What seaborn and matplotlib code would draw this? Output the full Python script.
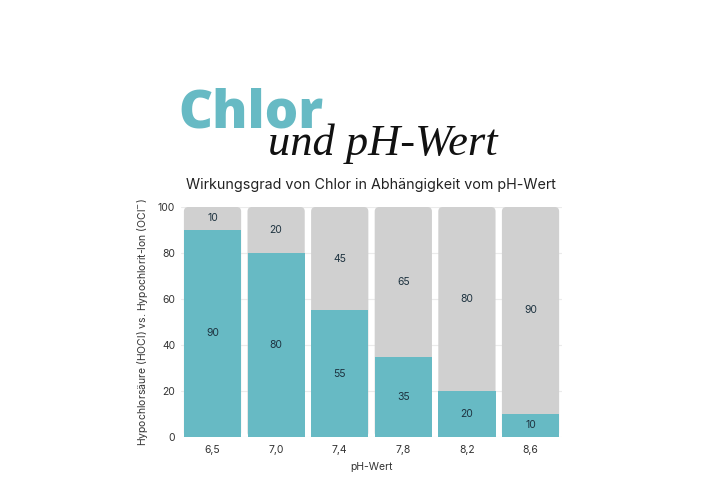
import pandas as pd
import matplotlib
matplotlib.use("Agg")
import matplotlib.pyplot as plt
from matplotlib.patches import FancyBboxPatch
import seaborn as sns

# data
ph_labels = ["6,5", "7,0", "7,4", "7,8", "8,2", "8,6"]
hocl = [90, 80, 55, 35, 20, 10]
ocl = [10, 20, 45, 65, 80, 90]

teal = "#67BAC4"
grey = "#D0D0D0"
txt = "#1E3340"

df = pd.DataFrame({"ph": ph_labels, "hocl": hocl, "ocl": ocl})
df["total"] = df["hocl"] + df["ocl"]

sns.set_theme(style="white")
plt.rcParams["font.family"] = ["Inter", "DejaVu Sans"]

fig = plt.figure(figsize=(7.2, 5), dpi=100)
ax = fig.add_axes([0.251, 0.126, 0.530, 0.460])

sns.barplot(data=df, x="ph", y="total", color=grey, saturation=1, width=0.9,
            linewidth=0, ax=ax, zorder=2)
n_grey = len(ax.patches)
sns.barplot(data=df, x="ph", y="hocl", color=teal, saturation=1, width=0.9,
            linewidth=0, ax=ax, zorder=3)

# round the grey bars' top corners
ax.set_xlim(-0.5, len(ph_labels) - 0.5)
ax.set_ylim(0, 100)
fig.canvas.draw()
bb = ax.get_window_extent()
aspect = (100 / bb.height) / (len(ph_labels) / bb.width)
for p in list(ax.patches[:n_grey]):
    x, y = p.get_x(), p.get_y()
    w, h = p.get_width(), p.get_height()
    fb = FancyBboxPatch((x, y), w, h, boxstyle="round,pad=0,rounding_size=0.07",
                        mutation_aspect=aspect, facecolor=grey, edgecolor="none", zorder=2)
    p.remove()
    ax.add_patch(fb)

# value labels
for i in range(len(ph_labels)):
    ax.text(i, hocl[i] / 2, str(hocl[i]), ha="center", va="center", fontsize=7.5, color=txt, zorder=5)
    ax.text(i, hocl[i] + ocl[i] / 2, str(ocl[i]), ha="center", va="center", fontsize=7.5, color=txt, zorder=5)

ax.set_yticks([0, 20, 40, 60, 80, 100])
ax.yaxis.grid(True, color="#EBEBEB", linewidth=0.8, zorder=0)
ax.set_axisbelow(True)
sns.despine(ax=ax, left=True, bottom=True)
ax.tick_params(axis="both", length=0, labelsize=7.5, labelcolor="#333333")
ax.tick_params(axis="x", pad=6)
ax.tick_params(axis="y", pad=4)
ax.set_xlabel("pH-Wert", fontsize=7.5, color="#333333", labelpad=5)
ax.set_ylabel("Hypochlorsäure (HOCl) vs. Hypochlorit-Ion (OCl$^{-}$)", fontsize=7.5,
              color="#333333", labelpad=6)

# titles
fig.text(0.248, 0.744, "Chlor", fontsize=38, fontweight="heavy", color=teal,
         ha="left", va="baseline", family=["Open Sans", "DejaVu Sans"])
fig.text(0.372, 0.690, "und pH-Wert", fontsize=32, style="italic", color="#111111",
         ha="left", va="baseline", family=["Liberation Serif", "DejaVu Serif"])
fig.text(0.515, 0.622, "Wirkungsgrad von Chlor in Abhängigkeit vom pH-Wert", fontsize=10.3,
         color="#222222", ha="center", va="baseline")

fig.savefig("out.png", dpi=100, facecolor="white")
